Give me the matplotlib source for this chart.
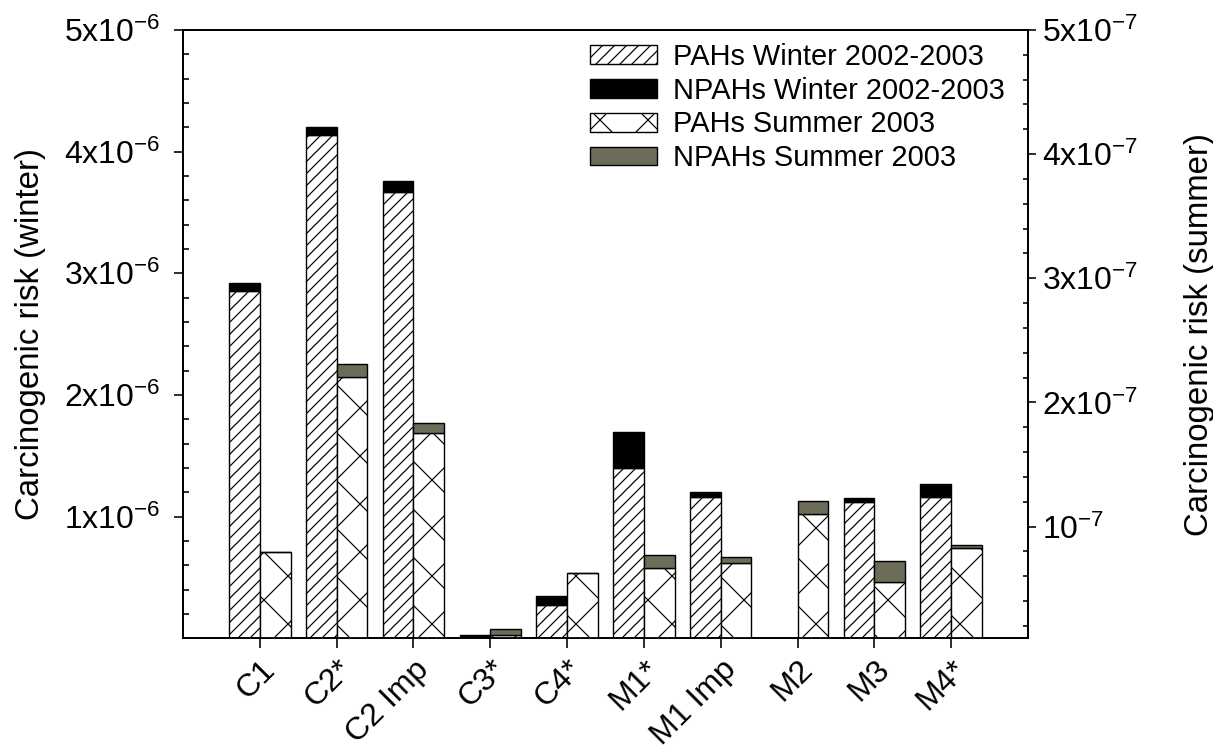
import numpy as np
import matplotlib
matplotlib.use('Agg')
import matplotlib.pyplot as plt
from matplotlib.patches import Patch
from matplotlib.ticker import FixedLocator, MultipleLocator, FixedFormatter

plt.rcParams['font.family'] = ['Liberation Sans', 'DejaVu Sans']
plt.rcParams['mathtext.fontset'] = 'custom'
plt.rcParams['mathtext.rm'] = 'Liberation Sans'
plt.rcParams['mathtext.it'] = 'Liberation Sans:italic'
plt.rcParams['hatch.linewidth'] = 0.6

sites = ['C1', 'C2*', 'C2 Imp', 'C3*', 'C4*', 'M1*', 'M1 Imp', 'M2', 'M3', 'M4*']

# winter risk, units of 1e-6
winter_pah = [2.855, 4.137, 3.671, 0.018, 0.275, 1.399, 1.165, 0.0, 1.119, 1.160]
winter_npah = [0.069, 0.063, 0.088, 0.008, 0.074, 0.300, 0.041, 0.0, 0.033, 0.107]

# summer risk, units of 1e-7
summer_pah = [0.798, 2.202, 1.753, 0.127, 0.629, 0.665, 0.705, 1.100, 0.552, 0.831]
summer_npah = [0.0, 0.108, 0.081, 0.048, 0.0, 0.107, 0.048, 0.110, 0.171, 0.024]

left_ticks = [1, 2, 3, 4, 5]
left_labels = ['1x10$^{-6}$', '2x10$^{-6}$', '3x10$^{-6}$', '4x10$^{-6}$', '5x10$^{-6}$']
right_ticks = [1, 2, 3, 4, 5]
right_labels = ['10$^{-7}$', '2x10$^{-7}$', '3x10$^{-7}$', '4x10$^{-7}$', '5x10$^{-7}$']

OLIVE = '#6d6c58'
W = 0.4

fig = plt.figure(figsize=(1213 / 144, 749 / 144), dpi=144)
ax = fig.add_axes([0.1509, 0.1477, 0.6966, 0.8123])
ax2 = ax.twinx()

x = np.arange(len(sites))
wp = np.array(winter_pah) * 1e-6
wn = np.array(winter_npah) * 1e-6
sp = np.array(summer_pah) * 1e-7
sn = np.array(summer_npah) * 1e-7

ax.bar(x - W / 2, wp, W, facecolor='white', edgecolor='black', hatch='////', linewidth=0.7)
ax.bar(x - W / 2, wn, W, bottom=wp, facecolor='black', edgecolor='black', linewidth=0.7)
ax2.bar(x + W / 2, sp, W, facecolor='white', edgecolor='black', hatch='x', linewidth=0.7)
ax2.bar(x + W / 2, sn, W, bottom=sp, facecolor=OLIVE, edgecolor='black', linewidth=0.7)

ax.set_xlim(-1, 10)
ax.set_ylim(0, 5e-6)
ax2.set_ylim(1e-8, 5e-7)

ax.set_xticks(x)
ax.set_xticklabels(sites, rotation=45, ha='right', va='top', rotation_mode='anchor', fontsize=16)
ax.tick_params(axis='x', direction='out', length=5, width=0.8, pad=3)

ax.yaxis.set_major_locator(FixedLocator([v * 1e-6 for v in left_ticks]))
ax.yaxis.set_major_formatter(FixedFormatter(left_labels))
ax.yaxis.set_minor_locator(MultipleLocator(0.2e-6))
ax.tick_params(axis='y', which='major', direction='out', length=4.5, width=0.8, labelsize=16, pad=7)
ax.tick_params(axis='y', which='minor', direction='in', length=3, width=0.8)

ax2.yaxis.set_major_locator(FixedLocator([v * 1e-7 for v in right_ticks]))
ax2.yaxis.set_major_formatter(FixedFormatter(right_labels))
ax2.yaxis.set_minor_locator(MultipleLocator(0.2e-7))
ax2.tick_params(axis='y', which='major', direction='out', length=4, width=0.8, labelsize=16, pad=3)
ax2.tick_params(axis='y', which='minor', direction='in', length=2.5, width=0.8)

for a in (ax, ax2):
    for s in a.spines.values():
        s.set_linewidth(0.9)

label_font = {'family': ['Liberation Sans Narrow', 'Liberation Sans'], 'size': 16.5}
ax.set_ylabel('Carcinogenic risk (winter)', fontdict=label_font, labelpad=9)
ax2.set_ylabel('Carcinogenic risk (summer)', fontdict=label_font, rotation=90, labelpad=23)

handles = [
    Patch(facecolor='white', edgecolor='black', hatch='////', linewidth=0.7),
    Patch(facecolor='black', edgecolor='black', linewidth=0.7),
    Patch(facecolor='white', edgecolor='black', hatch='x', linewidth=0.7),
    Patch(facecolor=OLIVE, edgecolor='black', linewidth=0.7),
]
names = ['PAHs Winter 2002-2003', 'NPAHs Winter 2002-2003', 'PAHs Summer 2003', 'NPAHs Summer 2003']
ax2.legend(handles, names, loc='upper left', bbox_to_anchor=(0.482, 0.979), frameon=False,
           fontsize=14.5, borderpad=0, handlelength=2.3, handleheight=0.62,
           handletextpad=0.55, labelspacing=0.2, borderaxespad=0)

fig.savefig('out.png', dpi=144)
